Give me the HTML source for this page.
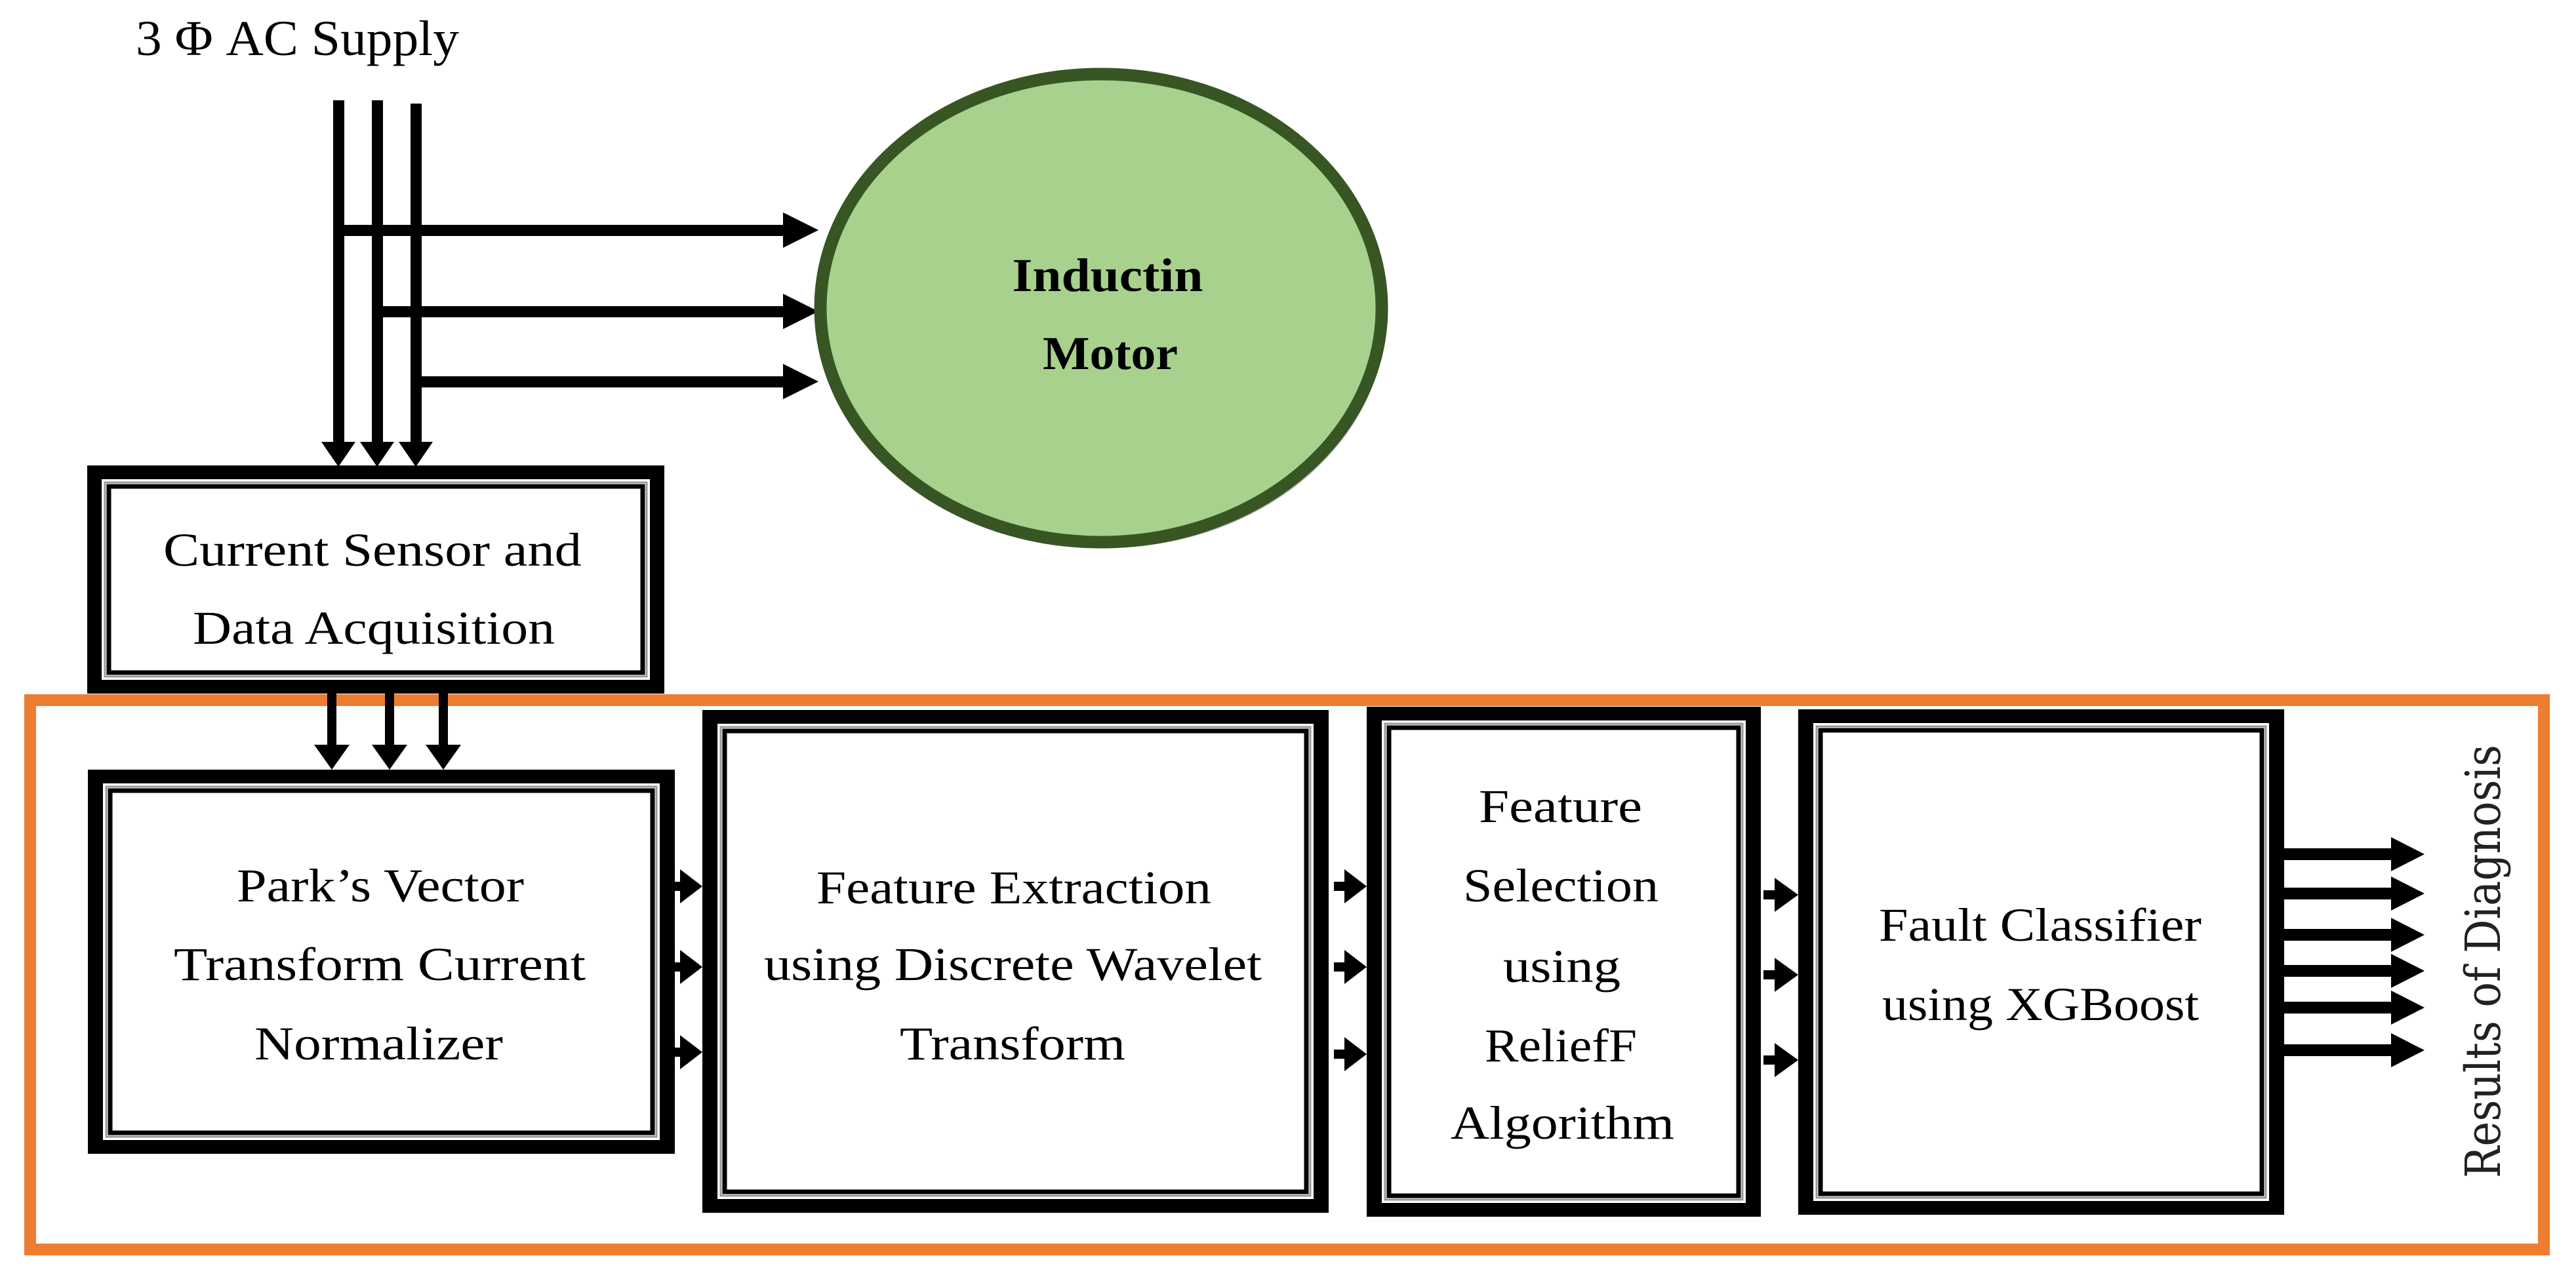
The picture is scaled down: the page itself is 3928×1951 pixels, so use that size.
<!DOCTYPE html>
<html><head><meta charset="utf-8"><style>html,body{margin:0;padding:0;background:#fff}svg{display:block}</style></head>
<body>
<svg width="3928" height="1951" viewBox="0 0 3928 1951" xmlns="http://www.w3.org/2000/svg">
<defs>
<g id="dummy"></g>
</defs>
<rect x="0" y="0" width="3928" height="1951" fill="#fff"/>

<!-- orange frame -->
<rect x="46" y="1068" width="3833" height="838" fill="none" stroke="#ED7D31" stroke-width="18"/>

<!-- supply label -->
<text x="207" y="84" font-family="Liberation Serif, serif" font-size="76" textLength="493" lengthAdjust="spacingAndGlyphs">3 Φ AC Supply</text>

<!-- supply vertical lines -->
<g fill="#000">
<rect x="508" y="153" width="17" height="524"/>
<rect x="567" y="153" width="17" height="524"/>
<rect x="626" y="158" width="17" height="519"/>
<polygon points="490,674 542,674 516,712"/>
<polygon points="549,674 601,674 575,712"/>
<polygon points="608,674 660,674 634,712"/>
<!-- horizontal to motor -->
<rect x="516" y="343" width="680" height="17"/>
<rect x="575" y="467" width="621" height="17"/>
<rect x="634" y="574" width="562" height="17"/>
<polygon points="1194,324 1194,378 1248,351"/>
<polygon points="1194,448 1194,502 1248,475"/>
<polygon points="1194,555 1194,609 1248,582"/>
</g>

<!-- motor -->
<ellipse cx="1686" cy="478" rx="428" ry="358" fill="#999" opacity="0.7"/>
<ellipse cx="1679" cy="470" rx="428" ry="357" fill="#A9D18E" stroke="#375623" stroke-width="19"/>
<text x="1689" y="444" text-anchor="middle" font-family="Liberation Serif, serif" font-weight="bold" font-size="72" textLength="291" lengthAdjust="spacingAndGlyphs">Inductin</text>
<text x="1693" y="563" text-anchor="middle" font-family="Liberation Serif, serif" font-weight="bold" font-size="72" textLength="206" lengthAdjust="spacingAndGlyphs">Motor</text>

<!-- box helper drawn manually -->
<!-- Current Sensor box 133,710 - 1013,1058 -->
<g>
<rect x="133" y="710" width="880" height="348" fill="#000"/>
<rect x="155" y="731" width="836" height="306" fill="#fff"/>
<rect x="160" y="736" width="826" height="296" fill="none" stroke="#999" stroke-width="3"/>
<rect x="166" y="742" width="814" height="284" fill="none" stroke="#000" stroke-width="7"/>
</g>
<g font-family="Liberation Serif, serif" font-size="72">
<text x="249" y="863" textLength="638" lengthAdjust="spacingAndGlyphs">Current Sensor and</text>
<text x="294" y="982" textLength="552" lengthAdjust="spacingAndGlyphs">Data Acquisition</text>
</g>

<!-- sensor -> park arrows -->
<g fill="#000">
<rect x="499" y="1058" width="14" height="80"/>
<rect x="587" y="1058" width="14" height="80"/>
<rect x="669" y="1058" width="14" height="80"/>
<polygon points="479,1136 533,1136 506,1174"/>
<polygon points="567,1136 621,1136 594,1174"/>
<polygon points="649,1136 703,1136 676,1174"/>
</g>

<!-- Park box 134,1174 - 1029,1760 -->
<g>
<rect x="134" y="1174" width="895" height="586" fill="#000"/>
<rect x="157" y="1195" width="849" height="544" fill="#fff"/>
<rect x="162" y="1200" width="839" height="534" fill="none" stroke="#999" stroke-width="3"/>
<rect x="168" y="1206" width="827" height="522" fill="none" stroke="#000" stroke-width="7"/>
</g>
<!-- FE box 1071,1083 - 2026,1850 -->
<g>
<rect x="1071" y="1083" width="955" height="767" fill="#000"/>
<rect x="1094" y="1104" width="909" height="725" fill="#fff"/>
<rect x="1099" y="1109" width="899" height="715" fill="none" stroke="#999" stroke-width="3"/>
<rect x="1105" y="1115" width="887" height="703" fill="none" stroke="#000" stroke-width="7"/>
</g>
<!-- FS box 2084,1078 - 2685,1856 -->
<g>
<rect x="2084" y="1078" width="601" height="778" fill="#000"/>
<rect x="2107" y="1099" width="555" height="736" fill="#fff"/>
<rect x="2112" y="1104" width="545" height="726" fill="none" stroke="#999" stroke-width="3"/>
<rect x="2118" y="1110" width="533" height="714" fill="none" stroke="#000" stroke-width="7"/>
</g>
<!-- FC box 2742,1082 - 3483,1853 -->
<g>
<rect x="2742" y="1082" width="741" height="771" fill="#000"/>
<rect x="2765" y="1103" width="695" height="729" fill="#fff"/>
<rect x="2770" y="1108" width="685" height="719" fill="none" stroke="#999" stroke-width="3"/>
<rect x="2776" y="1114" width="673" height="707" fill="none" stroke="#000" stroke-width="7"/>
</g>

<g font-family="Liberation Serif, serif" font-size="72">
<text x="361" y="1375" textLength="438" lengthAdjust="spacingAndGlyphs">Park’s Vector</text>
<text x="265" y="1495" textLength="628" lengthAdjust="spacingAndGlyphs">Transform Current</text>
<text x="388" y="1616" textLength="379" lengthAdjust="spacingAndGlyphs">Normalizer</text>

<text x="1245" y="1378" textLength="602" lengthAdjust="spacingAndGlyphs">Feature Extraction</text>
<text x="1165" y="1495" textLength="759" lengthAdjust="spacingAndGlyphs">using Discrete Wavelet</text>
<text x="1372" y="1616" textLength="344" lengthAdjust="spacingAndGlyphs">Transform</text>

<text x="2255" y="1254" textLength="249" lengthAdjust="spacingAndGlyphs">Feature</text>
<text x="2231" y="1375" textLength="298" lengthAdjust="spacingAndGlyphs">Selection</text>
<text x="2292" y="1498" textLength="179" lengthAdjust="spacingAndGlyphs">using</text>
<text x="2264" y="1619" textLength="232" lengthAdjust="spacingAndGlyphs">ReliefF</text>
<text x="2212" y="1737" textLength="341" lengthAdjust="spacingAndGlyphs">Algorithm</text>

<text x="2865" y="1435" textLength="492" lengthAdjust="spacingAndGlyphs">Fault Classifier</text>
<text x="2870" y="1556" textLength="483" lengthAdjust="spacingAndGlyphs">using XGBoost</text>
</g>

<!-- inter-box arrows -->
<g fill="#000">
<rect x="1029" y="1345" width="12" height="14"/>
<rect x="1029" y="1468" width="12" height="14"/>
<rect x="1029" y="1598" width="12" height="14"/>
<polygon points="1037,1326 1037,1378 1071,1352"/>
<polygon points="1037,1449 1037,1501 1071,1475"/>
<polygon points="1037,1579 1037,1631 1071,1605"/>

<rect x="2034" y="1345" width="20" height="14"/>
<rect x="2034" y="1468" width="20" height="14"/>
<rect x="2034" y="1601" width="20" height="14"/>
<polygon points="2050,1326 2050,1378 2084,1352"/>
<polygon points="2050,1449 2050,1501 2084,1475"/>
<polygon points="2050,1582 2050,1634 2084,1608"/>

<rect x="2689" y="1358" width="20" height="14"/>
<rect x="2689" y="1480" width="20" height="14"/>
<rect x="2689" y="1610" width="20" height="14"/>
<polygon points="2706,1339 2706,1391 2742,1365"/>
<polygon points="2706,1461 2706,1513 2742,1487"/>
<polygon points="2706,1591 2706,1643 2742,1617"/>
</g>

<!-- output arrows -->
<g fill="#000">
<rect x="3483" y="1294" width="165" height="18"/>
<rect x="3483" y="1354" width="165" height="18"/>
<rect x="3483" y="1417" width="165" height="18"/>
<rect x="3483" y="1472" width="165" height="18"/>
<rect x="3483" y="1528" width="165" height="18"/>
<rect x="3483" y="1593" width="165" height="18"/>
<polygon points="3646,1277 3646,1329 3697,1303"/>
<polygon points="3646,1337 3646,1389 3697,1363"/>
<polygon points="3646,1400 3646,1452 3697,1426"/>
<polygon points="3646,1455 3646,1507 3697,1481"/>
<polygon points="3646,1511 3646,1563 3697,1537"/>
<polygon points="3646,1576 3646,1628 3697,1602"/>
</g>

<text transform="translate(3812,1797) rotate(-90)" font-family="DejaVu Serif, Liberation Serif, serif" font-size="74" fill="#222" textLength="661" lengthAdjust="spacingAndGlyphs">Results of Diagnosis</text>
</svg>
</body></html>
